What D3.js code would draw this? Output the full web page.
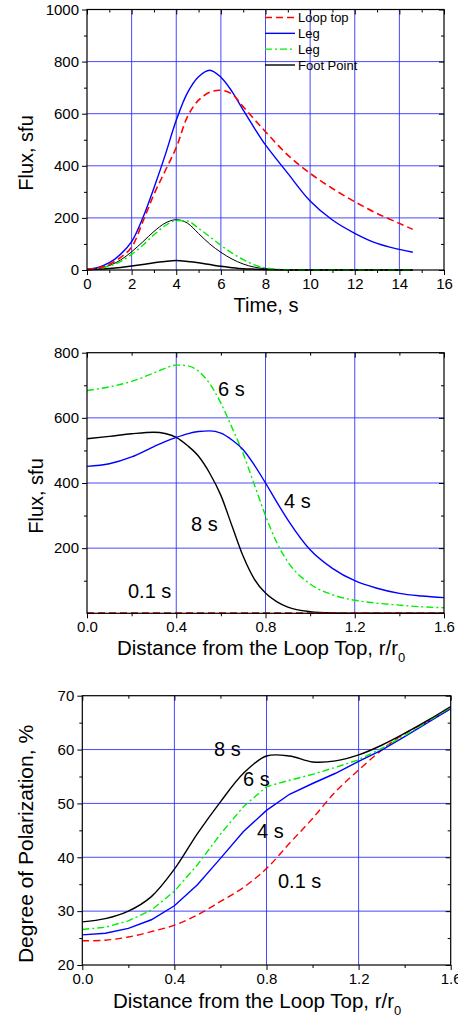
<!DOCTYPE html>
<html>
<head>
<meta charset="utf-8">
<script src="https://cdn.jsdelivr.net/npm/d3@7"></script>
<style>
  body { margin: 0; background: #fff; }
  svg text { font-family: Arial, "Liberation Sans", sans-serif; fill: #000; }
</style>
</head>
<body>
<div id="chart"></div>
<script>
// panel 1: flux vs time
const time = [0, 0.5, 1, 1.5, 2, 2.5, 3, 3.5, 4, 4.5, 5, 5.5, 6, 6.5, 7, 7.5, 8, 9, 10, 11, 12, 13, 14, 14.6];
const fluxLoopTop = [2, 8, 22, 48, 88, 185, 290, 380, 470, 588, 652, 682, 690, 675, 627, 578, 531, 441, 371, 313, 262, 217, 179, 156];
const fluxLeg = [3, 10, 28, 60, 109, 200, 315, 440, 575, 680, 742, 767, 740, 685, 614, 545, 480, 371, 265, 192, 141, 102, 79, 68];
const fluxLeg2 = [2, 6, 15, 32, 60, 95, 135, 170, 190, 188, 160, 128, 95, 65, 40, 20, 8, 1, 0, 0, 0, 0, 0, 0];
const fluxFootThin = [2, 6, 17, 38, 70, 108, 148, 180, 193, 180, 140, 100, 68, 42, 23, 11, 5, 1, 0, 0, 0, 0, 0, 0];
const fluxFoot = [1, 3, 6, 10, 15, 21, 28, 33, 36, 33, 28, 21, 14, 9, 5, 3, 1.5, 0.3, 0, 0, 0, 0, 0, 0];
const legendLabels = ["Loop top", "Leg", "Leg", "Foot Point"];

// panel 2: flux vs distance
const dist2 = [0, 0.1, 0.2, 0.3, 0.35, 0.4, 0.45, 0.5, 0.55, 0.6, 0.65, 0.7, 0.75, 0.8, 0.85, 0.9, 1.0, 1.1, 1.2, 1.3, 1.4, 1.5, 1.6];
const flux01s = [0.5, 0.5, 0.5, 0.5, 0.5, 0.5, 0.5, 0.5, 0.5, 0.5, 0.5, 0.5, 0.5, 0.5, 0.5, 0.5, 0.5, 0.5, 0.5, 0.5, 0.5, 0.5, 0.5];
const flux4s = [451, 459, 480, 512, 527, 540, 551, 558, 560, 553, 532, 502, 455, 400, 342, 287, 195, 138, 100, 77, 61, 53, 48];
const flux6s = [684, 695, 712, 738, 752, 762, 760, 743, 705, 645, 570, 490, 395, 300, 218, 158, 90, 57, 40, 31, 25, 20, 17];
const flux8s = [536, 543, 551, 556, 552, 540, 515, 482, 430, 362, 268, 175, 105, 62, 36, 19, 5, 1, 0, 0, 0, 0, 0];

// panel 3: polarization vs distance
const dist3 = [0, 0.1, 0.2, 0.3, 0.4, 0.5, 0.6, 0.7, 0.8, 0.9, 1.0, 1.1, 1.2, 1.3, 1.4, 1.5, 1.6];
const pol01s = [24.5, 24.6, 25.2, 26.2, 27.4, 29.3, 31.8, 34.4, 37.9, 42.6, 47.2, 52.2, 56.2, 59.9, 63.0, 65.2, 67.6];
const pol4s = [25.6, 25.9, 26.8, 28.4, 31.0, 34.9, 39.8, 44.8, 48.7, 51.7, 53.7, 55.6, 57.8, 59.9, 62.4, 65.0, 67.6];
const pol6s = [26.6, 27.0, 28.2, 30.2, 33.7, 38.6, 44.3, 49.4, 53.1, 54.3, 55.4, 56.7, 58.1, 60.2, 62.6, 65.2, 67.8];
const pol8s = [28.0, 28.6, 30.0, 32.7, 37.8, 44.4, 50.3, 55.6, 58.8, 58.8, 57.7, 57.9, 59.0, 60.8, 63.0, 65.4, 68.0];

const RED = "#ff0000", BLUE = "#0000ff", GREEN = "#00ee00", BLACK = "#000";
const DASH = "7,4", DASHDOT = "7,3,2,3";

const svg = d3.select("#chart").append("svg")
    .attr("width", 458)
    .attr("height", 1018);

function makePanel(o) {
    const x = d3.scaleLinear().domain(o.xDomain).range([o.left, o.right]);
    const y = d3.scaleLinear().domain(o.yDomain).range([o.bottom, o.top]);
    const g = svg.append("g");

    // grid
    g.selectAll(".vgrid").data(o.xGrid).enter().append("line")
        .attr("x1", d => x(d)).attr("x2", d => x(d))
        .attr("y1", o.top).attr("y2", o.bottom)
        .attr("stroke", "#2a2aff").attr("stroke-width", 1).attr("opacity", 0.85);
    g.selectAll(".hgrid").data(o.yGrid).enter().append("line")
        .attr("x1", o.left).attr("x2", o.right)
        .attr("y1", d => y(d)).attr("y2", d => y(d))
        .attr("stroke", "#2a2aff").attr("stroke-width", 1).attr("opacity", 0.85);

    // series
    o.series.forEach(s => {
        const line = d3.line()
            .x(d => x(d[0])).y(d => y(d[1]))
            .curve(s.curve || d3.curveMonotoneX);
        g.append("path")
            .datum(s.xs.map((v, i) => [v, s.ys[i]]))
            .attr("d", line)
            .attr("fill", "none")
            .attr("stroke", s.color)
            .attr("stroke-width", s.width || 1.4)
            .attr("stroke-dasharray", s.dash || null);
    });

    // axes: left/bottom ticks outward, top/right ticks inward
    const bottom = d3.axisBottom(x).tickValues(o.xTicks).tickSize(5).tickFormat(o.xFormat);
    const bottomMinor = d3.axisBottom(x).tickValues(o.xMinor).tickSize(3).tickFormat("");
    const top = d3.axisBottom(x).tickValues(o.xTicks).tickSize(5).tickFormat("");
    const topMinor = d3.axisBottom(x).tickValues(o.xMinor).tickSize(3).tickFormat("");
    const left = d3.axisLeft(y).tickValues(o.yTicks).tickSize(5).tickFormat(o.yFormat || d3.format("d"));
    const leftMinor = d3.axisLeft(y).tickValues(o.yMinor).tickSize(3).tickFormat("");
    const right = d3.axisRight(y).tickValues(o.yTicks).tickSize(-5).tickFormat("");
    const rightMinor = d3.axisRight(y).tickValues(o.yMinor).tickSize(-3).tickFormat("");

    const axes = [
        [bottom, `translate(0,${o.bottom})`],
        [bottomMinor, `translate(0,${o.bottom})`],
        [top, `translate(0,${o.top})`],
        [topMinor, `translate(0,${o.top})`],
        [left, `translate(${o.left},0)`],
        [leftMinor, `translate(${o.left},0)`],
        [right, `translate(${o.right},0)`],
        [rightMinor, `translate(${o.right},0)`]
    ];
    axes.forEach(([ax, tr]) => {
        const a = g.append("g").attr("transform", tr).call(ax);
        a.select(".domain").remove();
        a.selectAll("line").attr("stroke", "#000").attr("stroke-width", 1);
        a.selectAll("text").attr("font-size", "15px").attr("fill", "#000")
            .style("font-family", "Arial, 'Liberation Sans', sans-serif");
    });

    // frame
    g.append("rect")
        .attr("x", o.left).attr("y", o.top)
        .attr("width", o.right - o.left).attr("height", o.bottom - o.top)
        .attr("fill", "none").attr("stroke", "#000").attr("stroke-width", 1.2);

    // annotations
    (o.notes || []).forEach(n => {
        g.append("text").attr("x", n.x).attr("y", n.y)
            .attr("font-size", "20px").text(n.t);
    });
    return { x, y, g };
}

// Panel 1
const p1 = makePanel({
    xDomain: [0, 16], yDomain: [0, 1000],
    left: 87, right: 444, top: 9.5, bottom: 270,
    xTicks: d3.range(0, 17, 2), xMinor: d3.range(1, 16, 2),
    yTicks: d3.range(0, 1001, 200), yMinor: d3.range(100, 1000, 200),
    xGrid: d3.range(2, 15, 2), yGrid: [200, 400, 600, 800],
    xFormat: d3.format("d"),
    series: [
        { xs: time, ys: fluxFoot, color: BLACK, width: 1.5 },
        { xs: time, ys: fluxFootThin, color: BLACK, width: 1 },
        { xs: time, ys: fluxLeg2, color: GREEN, dash: DASHDOT },
        { xs: time, ys: fluxLeg, color: BLUE, curve: d3.curveCatmullRom },
        { xs: time, ys: fluxLoopTop, color: RED, dash: DASH, width: 1.6, curve: d3.curveCatmullRom }
    ]
});
// legend
const legendStyles = [
    { color: RED, dash: DASH, width: 1.6 },
    { color: BLUE, dash: null, width: 1.4 },
    { color: GREEN, dash: DASHDOT, width: 1.4 },
    { color: BLACK, dash: null, width: 1.4 }
];
const legendY = d3.scalePoint().domain(d3.range(legendLabels.length)).range([17.5, 65]);
const lg = p1.g.selectAll(".legend").data(legendLabels).enter().append("g")
    .attr("transform", (d, i) => `translate(0,${legendY(i)})`);
lg.append("line").attr("x1", 265).attr("x2", 295).attr("y1", 0).attr("y2", 0)
    .attr("stroke", (d, i) => legendStyles[i].color)
    .attr("stroke-width", (d, i) => legendStyles[i].width)
    .attr("stroke-dasharray", (d, i) => legendStyles[i].dash);
lg.append("text").attr("x", 298).attr("y", 0).attr("dy", "0.35em")
    .attr("font-size", "13px").text(d => d);
// axis titles
svg.append("text").attr("x", 266).attr("y", 312).attr("text-anchor", "middle")
    .attr("font-size", "20px").text("Time, s");
svg.append("text").attr("transform", "translate(33,153) rotate(-90)").attr("text-anchor", "middle")
    .attr("font-size", "20px").text("Flux, sfu");

// Panel 2
makePanel({
    xDomain: [0, 1.6], yDomain: [0, 800],
    left: 87, right: 444, top: 352.7, bottom: 613.3,
    xTicks: [0, 0.4, 0.8, 1.2, 1.6], xMinor: [0.2, 0.6, 1.0, 1.4],
    yTicks: [200, 400, 600, 800], yMinor: [100, 300, 500, 700],
    xGrid: [0.4, 0.8, 1.2], yGrid: [200, 400, 600],
    xFormat: d3.format(".1f"),
    series: [
        { xs: dist2, ys: flux8s, color: BLACK },
        { xs: dist2, ys: flux01s, color: "#cc0000", dash: DASH, width: 1.6 },
        { xs: dist2, ys: flux6s, color: GREEN, dash: DASHDOT },
        { xs: dist2, ys: flux4s, color: BLUE }
    ],
    notes: [
        { x: 218, y: 396, t: "6 s" },
        { x: 284, y: 508, t: "4 s" },
        { x: 191, y: 531, t: "8 s" },
        { x: 128, y: 598, t: "0.1 s" }
    ]
});
const t2 = svg.append("text").attr("x", 117).attr("y", 655).attr("font-size", "20.5px");
t2.append("tspan").text("Distance from the Loop Top, r/r");
t2.append("tspan").attr("font-size", "13px").attr("dy", 7).text("0");
svg.append("text").attr("transform", "translate(43,496) rotate(-90)").attr("text-anchor", "middle")
    .attr("font-size", "20px").text("Flux, sfu");

// Panel 3
makePanel({
    xDomain: [0, 1.6], yDomain: [20, 70],
    left: 82.3, right: 450.7, top: 695.7, bottom: 965,
    xTicks: [0, 0.4, 0.8, 1.2, 1.6], xMinor: [0.2, 0.6, 1.0, 1.4],
    yTicks: [20, 30, 40, 50, 60, 70], yMinor: [25, 35, 45, 55, 65],
    xGrid: [0.4, 0.8, 1.2], yGrid: [30, 40, 50, 60],
    xFormat: d3.format(".1f"),
    series: [
        { xs: dist3, ys: pol01s, color: RED, dash: DASH, width: 1.4, curve: d3.curveCatmullRom },
        { xs: dist3, ys: pol4s, color: BLUE, curve: d3.curveLinear },
        { xs: dist3, ys: pol6s, color: GREEN, dash: DASHDOT, curve: d3.curveLinear },
        { xs: dist3, ys: pol8s, color: BLACK, curve: d3.curveCatmullRom }
    ],
    notes: [
        { x: 214, y: 756, t: "8 s" },
        { x: 243, y: 786, t: "6 s" },
        { x: 257, y: 838, t: "4 s" },
        { x: 278, y: 888, t: "0.1 s" }
    ]
});
const t3 = svg.append("text").attr("x", 113).attr("y", 1008).attr("font-size", "20.5px");
t3.append("tspan").text("Distance from the Loop Top, r/r");
t3.append("tspan").attr("font-size", "13px").attr("dy", 7).text("0");
svg.append("text").attr("transform", "translate(33,844) rotate(-90)").attr("text-anchor", "middle")
    .attr("font-size", "21px").text("Degree of Polarization, %");
</script>
</body>
</html>
